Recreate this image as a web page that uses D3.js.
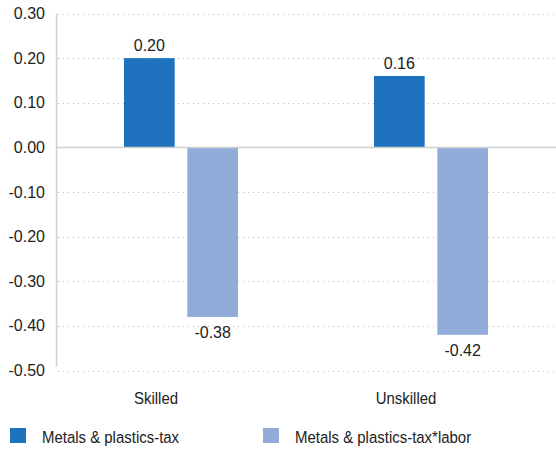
<!DOCTYPE html>
<html><head><meta charset="utf-8">
<script src="https://cdn.jsdelivr.net/npm/d3@7"></script>
<style>body{margin:0;background:#fff}svg{display:block}text{font-family:"Liberation Sans",Arial,sans-serif;fill:#222}</style>
</head><body><svg id="c" width="556" height="450"></svg>
<script>
const categories = ["Skilled", "Unskilled"];
const seriesNames = ["Metals & plastics-tax", "Metals & plastics-tax*labor"];
const taxValues = [0.20, 0.16];
const taxLaborValues = [-0.38, -0.42];
const yTicks = [0.30, 0.20, 0.10, 0.00, -0.10, -0.20, -0.30, -0.40, -0.50];
const colors = ["#1f72bd", "#92acd9"];

(function () {
const svg = d3.select("#c");
const fmt = d => d3.format(".2f")(d).replace("\u2212", "-");
const mLeft = 56, mRight = 556, mTop = 13.5, mBottom = 370.5;
const y = d3.scaleLinear().domain([-0.5, 0.3]).range([mBottom, mTop]);
const x0 = d3.scaleBand().domain(categories).range([mLeft, mRight]);
const x1 = d3.scaleBand().domain([0, 1]).range([0, 114]).paddingInner(0.2);
const SX = 0.88;

svg.append("g").selectAll("line").data(yTicks.filter(d => Math.abs(d) > 1e-9)).join("line")
  .attr("x1", mLeft + 2).attr("x2", mRight).attr("y1", d => Math.round(y(d)) + 0.5).attr("y2", d => Math.round(y(d)) + 0.5)
  .attr("stroke", "#b5b5b5").attr("stroke-width", 1).attr("stroke-dasharray", "1,4");

svg.append("line").attr("x1", mLeft + 0.5).attr("x2", mLeft + 0.5).attr("y1", mTop).attr("y2", mBottom - 4)
  .attr("stroke", "#d0d0d0").attr("stroke-width", 1.5);

svg.append("g").selectAll("text").data(yTicks).join("text")
  .attr("x", 45).attr("y", d => y(d)).attr("dy", "0.35em").attr("text-anchor", "end")
  .attr("font-size", 16).text(fmt);

const series = [taxValues, taxLaborValues];
series.forEach((vals, si) => {
  const g = svg.append("g");
  g.selectAll("rect").data(categories).join("rect")
    .attr("x", (c) => x0(c) + x0.bandwidth() / 2 - 57 + x1(si))
    .attr("width", x1.bandwidth())
    .attr("y", (c, i) => y(Math.max(0, vals[i])))
    .attr("height", (c, i) => Math.abs(y(vals[i]) - y(0)))
    .attr("fill", colors[si]);
  g.selectAll("text").data(categories).join("text")
    .attr("x", (c) => x0(c) + x0.bandwidth() / 2 - 57 + x1(si) + x1.bandwidth() / 2)
    .attr("y", (c, i) => vals[i] >= 0 ? y(vals[i]) - 7 : y(vals[i]) + 21)
    .attr("text-anchor", "middle").attr("font-size", 16)
    .text((c, i) => fmt(vals[i]));
});

svg.append("line").attr("x1", mLeft).attr("x2", mRight).attr("y1", y(0)).attr("y2", y(0))
  .attr("stroke", "#cfcfcf").attr("stroke-width", 1.5);

svg.append("g").selectAll("text").data(categories).join("text")
  .attr("transform", c => `translate(${x0(c) + x0.bandwidth() / 2 - 25},398) scale(${SX},1)`)
  .attr("dy", "0.35em").attr("text-anchor", "middle").attr("font-size", 17).text(c => c);

const legX = [10, 263];
const lg = svg.append("g");
seriesNames.forEach((n, i) => {
  lg.append("rect").attr("x", legX[i]).attr("y", 428).attr("width", 16).attr("height", 15).attr("fill", colors[i]);
  lg.append("text").attr("transform", `translate(${legX[i] + 32},437) scale(${SX},1)`)
    .attr("dy", "0.35em").attr("font-size", 17).text(n);
});
})();
</script></body></html>
